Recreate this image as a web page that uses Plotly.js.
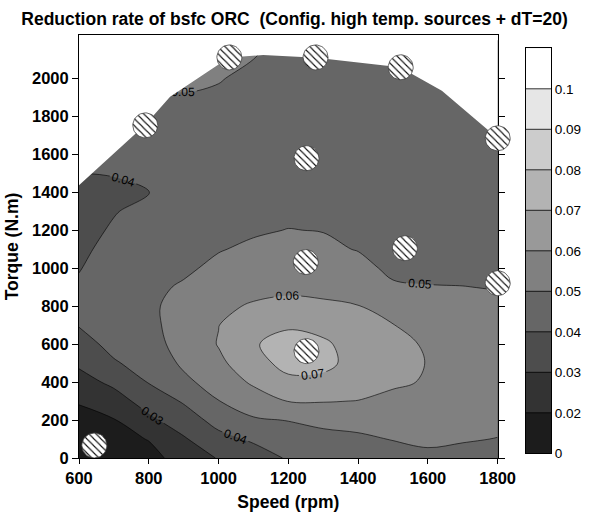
<!DOCTYPE html>
<html><head><meta charset="utf-8">
<script src="https://cdn.plot.ly/plotly-3.0.1.min.js"></script>
<style>body{margin:0;padding:0;background:#fff}</style>
</head><body><div id="chart" style="width:589px;height:518px"></div>
<script>
// Engine speed grid (rpm) and torque grid (N.m)
const speed = [600, 700, 800, 900, 1000, 1100, 1200, 1300, 1400, 1500, 1600, 1700, 1800];
const torque = [0, 100, 200, 300, 400, 500, 600, 700, 800, 900, 1000, 1100, 1200, 1300, 1400, 1500, 1600, 1800, 2000, 2200];
// Reduction rate of bsfc, one row per torque value (columns follow speed)
const t0    = [0.008, 0.012, 0.016, 0.025, 0.0305, 0.035, 0.041, 0.043, 0.044, 0.0445, 0.047, 0.046, 0.045];
const t100  = [0.012, 0.016, 0.0205, 0.029, 0.037, 0.0415, 0.0455, 0.047, 0.048, 0.0505, 0.0525, 0.051, 0.0497];
const t200  = [0.016, 0.0195, 0.028, 0.035, 0.0435, 0.049, 0.0503, 0.0525, 0.054, 0.054, 0.055, 0.054, 0.053];
const t300  = [0.021, 0.026, 0.034, 0.041, 0.0498, 0.055, 0.0603, 0.0605, 0.0598, 0.0575, 0.0575, 0.0558, 0.0545];
const t400  = [0.0265, 0.032, 0.0405, 0.048, 0.054, 0.0615, 0.0675, 0.0675, 0.0645, 0.0615, 0.0592, 0.057, 0.0555];
const t500  = [0.0315, 0.039, 0.044, 0.0515, 0.058, 0.066, 0.0735, 0.0725, 0.0665, 0.063, 0.0597, 0.0572, 0.0555];
const t600  = [0.036, 0.043, 0.047, 0.053, 0.0605, 0.069, 0.0745, 0.0715, 0.066, 0.0625, 0.059, 0.0565, 0.055];
const t700  = [0.0405, 0.045, 0.048, 0.0535, 0.0598, 0.067, 0.0685, 0.067, 0.0635, 0.0602, 0.057, 0.0548, 0.054];
const t800  = [0.042, 0.046, 0.0485, 0.053, 0.058, 0.061, 0.0625, 0.0615, 0.0602, 0.0565, 0.0545, 0.053, 0.0525];
const t900  = [0.0415, 0.046, 0.048, 0.051, 0.055, 0.057, 0.058, 0.0575, 0.057, 0.0515, 0.0505, 0.0502, 0.0495];
const t1000 = [0.0395, 0.045, 0.047, 0.0485, 0.052, 0.054, 0.055, 0.0545, 0.0535, 0.0475, 0.047, 0.047, 0.047];
const t1100 = [0.038, 0.043, 0.046, 0.047, 0.0495, 0.0515, 0.0525, 0.052, 0.0495, 0.046, 0.0455, 0.0455, 0.0455];
const t1200 = [0.037, 0.041, 0.045, 0.046, 0.048, 0.049, 0.0502, 0.0497, 0.047, 0.045, 0.045, 0.045, 0.045];
const t1300 = [0.0365, 0.0395, 0.0425, 0.044, 0.047, 0.047, 0.048, 0.048, 0.046, 0.0445, 0.0445, 0.0445, 0.0445];
const t1400 = [0.037, 0.038, 0.0398, 0.0425, 0.046, 0.046, 0.047, 0.047, 0.0455, 0.0445, 0.0445, 0.0445, 0.0445];
const t1500 = [0.040, 0.0405, 0.042, 0.044, 0.046, 0.0455, 0.046, 0.046, 0.045, 0.0445, 0.0445, 0.0445, 0.0445];
const t1600 = [0.042, 0.043, 0.044, 0.046, 0.046, 0.0455, 0.046, 0.046, 0.045, 0.0445, 0.0445, 0.0445, 0.0445];
const t1800 = [0.044, 0.046, 0.047, 0.048, 0.047, 0.046, 0.046, 0.045, 0.045, 0.045, 0.045, 0.045, 0.045];
const t2000 = [0.045, 0.047, 0.0505, 0.0512, 0.0505, 0.048, 0.046, 0.045, 0.045, 0.045, 0.045, 0.045, 0.045];
const t2200 = [0.045, 0.047, 0.051, 0.052, 0.053, 0.052, 0.048, 0.046, 0.045, 0.045, 0.045, 0.045, 0.045];
const reduction = [t0, t100, t200, t300, t400, t500, t600, t700, t800, t900, t1000, t1100, t1200, t1300, t1400, t1500, t1600, t1800, t2000, t2200];

// Measured operating points (hatched circles)
const pointSpeed  = [644, 790, 1031, 1278, 1522, 1800, 1252, 1250, 1534, 1800, 1252];
const pointTorque = [66, 1752, 2110, 2110, 2058, 1684, 1579, 1032, 1105, 921, 563];

// Outline of the measured domain (upper edge)
const boundarySpeed  = [600, 790, 861, 1030, 1128, 1280, 1520, 1640, 1800];
const boundaryTorque = [1437, 1755, 1903, 2110, 2122, 2108, 2058, 1935, 1684];

// Axis ticks
const speedTicks  = [600, 800, 1000, 1200, 1400, 1600, 1800];
const torqueTicks = [0, 200, 400, 600, 800, 1000, 1200, 1400, 1600, 1800, 2000];

// Contour levels / colour bar
const levels = [0.02, 0.03, 0.04, 0.05, 0.06, 0.07, 0.08, 0.09, 0.1];
const levelColors = ['#1c1c1c', '#333333', '#4d4d4d', '#666666', '#808080', '#999999', '#b3b3b3', '#cccccc', '#e6e6e6', '#ffffff'];
const colorbarLabels = ['0', '0.02', '0.03', '0.04', '0.05', '0.06', '0.07', '0.08', '0.09', '0.1'];

const FONT = 'Liberation Sans, Arial, sans-serif';
const W = 589, H = 518, ml = 79, mr = 37, mt = 35, mb = 60;
const plotW = W - ml - mr, plotH = H - mt - mb;
const px2fx = p => (p - ml) / plotW;
const py2fy = p => (H - mb - p) / plotH;
const xMainEnd = px2fx(497.7);
const xCircEnd = px2fx(523);
const xRange = [600, 1800], yRange = [0, 2228];
const x2Range = [600, 600 + (xRange[1] - xRange[0]) * xCircEnd / xMainEnd];

const colorscale = levelColors.map((c, i) => [i / (levelColors.length - 1), c]);
const levelSize = levels[1] - levels[0];

const traces = [];
traces.push({
  type: 'contour', x: speed, y: torque, z: reduction,
  autocontour: false, showscale: false,
  contours: {start: levels[0], end: levels[levels.length - 1], size: levelSize,
             coloring: 'fill', showlines: true, showlabels: true,
             labelfont: {family: FONT, size: 12, color: '#000'}},
  line: {color: '#000', width: 0.6, smoothing: 1},
  colorscale: colorscale,
  hoverinfo: 'skip'
});

// white mask above the measured domain
const maskX = boundarySpeed.concat([xRange[1] + 20, xRange[0] - 20, xRange[0] - 20]);
const maskY = boundaryTorque.concat([yRange[1] + 100, yRange[1] + 100, boundaryTorque[0]]);
traces.push({type: 'scatter', mode: 'lines', x: maskX, y: maskY, fill: 'toself',
  fillcolor: '#ffffff', line: {width: 0, color: '#ffffff'}, hoverinfo: 'skip', showlegend: false});

// hatched circles (on a wider overlay axis so they are not clipped at 1800 rpm)
const rPx = 12.5;
const rx = rPx * (xRange[1] - xRange[0]) / (xMainEnd * plotW);
const ry = rPx * (yRange[1] - yRange[0]) / plotH;
for (let k = 0; k < pointSpeed.length; k++) {
  const cx = [], cy = [];
  for (let a = 0; a <= 48; a++) {
    const t = a / 48 * 2 * Math.PI;
    cx.push(pointSpeed[k] + rx * Math.cos(t));
    cy.push(pointTorque[k] + ry * Math.sin(t));
  }
  traces.push({type: 'scatter', mode: 'lines', x: cx, y: cy, xaxis: 'x2', yaxis: 'y',
    fill: 'toself', fillcolor: '#ffffff',
    fillpattern: {shape: '\\', size: 5, solidity: 0.22, fgcolor: '#111', bgcolor: '#ffffff'},
    line: {color: '#444', width: 0.8}, hoverinfo: 'skip', showlegend: false});
}

// colour bar: a contour of the band index in its own small subplot (equal-height bands)
const barIdx = [];
const barZ = [];
for (let k = 0; k <= levels.length + 2; k++) { barIdx.push(k - 0.5); barZ.push([k - 0.5, k - 0.5]); }
traces.push({
  type: 'contour', x: [0, 1], y: barIdx, z: barZ, xaxis: 'x3', yaxis: 'y3',
  autocontour: false, showscale: false,
  contours: {start: 1, end: levels.length, size: 1, coloring: 'fill', showlines: true, showlabels: false},
  line: {color: '#000', width: 0.8, smoothing: 0},
  colorscale: colorscale, hoverinfo: 'skip'
});

const axFont = {family: FONT, size: 16.5, weight: 'bold', color: '#000'};
const titleFont = {family: FONT, size: 17.5, weight: 'bold', color: '#000'};
const layout = {
  width: W, height: H,
  margin: {l: ml, r: mr, t: mt, b: mb, pad: 0},
  paper_bgcolor: '#fff', plot_bgcolor: 'rgba(0,0,0,0)',
  showlegend: false,
  font: {family: FONT, color: '#000'},
  title: {text: 'Reduction rate of bsfc ORC\u00a0 (Config. high temp. sources + dT=20)',
          font: titleFont,
          xref: 'container', x: 0.5, xanchor: 'center', yref: 'container', y: 1 - 19 / H, yanchor: 'middle'},
  xaxis: {domain: [0, xMainEnd], range: xRange, tickmode: 'array', tickvals: speedTicks,
          ticks: 'outside', ticklen: 5,
          tickcolor: '#000', showline: true, linecolor: '#000', linewidth: 1, mirror: true,
          showgrid: false, zeroline: false, automargin: false, tickfont: axFont,
          title: {text: 'Speed (rpm)', standoff: 9, font: titleFont}},
  yaxis: {domain: [0, 1], range: yRange, tickmode: 'array', tickvals: torqueTicks,
          ticks: 'outside', ticklen: 6,
          tickcolor: '#000', showline: true, linecolor: '#000', linewidth: 1, mirror: 'ticks',
          showgrid: false, zeroline: false, automargin: false, tickfont: axFont,
          title: {text: 'Torque (N.m)', standoff: 8, font: titleFont}},
  xaxis2: {domain: [0, xCircEnd], range: x2Range, anchor: 'y', visible: false, showgrid: false, zeroline: false},
  xaxis3: {domain: [px2fx(526), px2fx(551)], range: [0, 1], anchor: 'y3', showline: true, mirror: true,
           linecolor: '#000', linewidth: 1, ticks: '', showticklabels: false, showgrid: false, zeroline: false},
  yaxis3: {domain: [py2fy(453.3), py2fy(48.3)], range: [0, levels.length + 1], anchor: 'x3', side: 'right',
           showline: true, mirror: true, linecolor: '#000', linewidth: 1,
           tickmode: 'array', tickvals: colorbarLabels.map((_, i) => i), ticktext: colorbarLabels,
           ticks: '', showgrid: false, zeroline: false,
           tickfont: {family: FONT, size: 13.5, color: '#000'}}
};

Plotly.newPlot('chart', traces, layout, {displayModeBar: false, staticPlot: true});
</script></body></html>
